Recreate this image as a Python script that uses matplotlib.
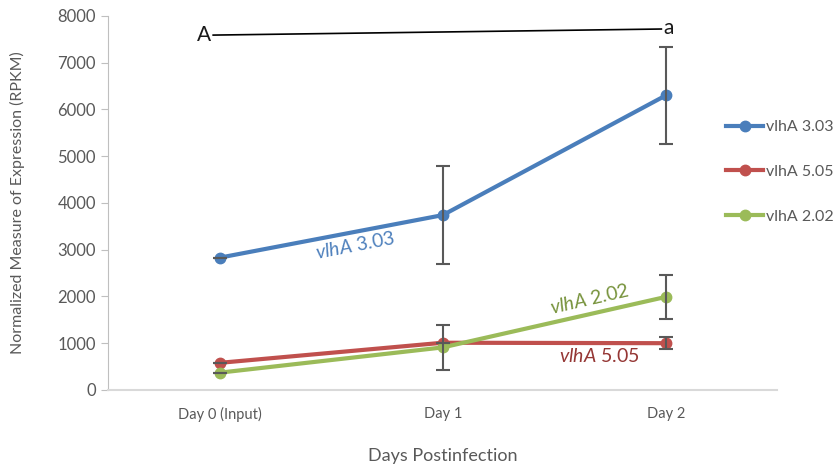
import matplotlib.pyplot as plt

# 数据
days = ['Day 0 (Input)', 'Day 1', 'Day 2']
vlha_303 = [2830, 3740, 6300]
vlha_303_err = [0, 1040, 1030]
vlha_505 = [580, 1010, 1000]
vlha_505_err = [0, 0, 130]
vlha_202 = [370, 910, 1990]
vlha_202_err = [0, 480, 470]

# A -> a 显著性标记线
sig_x = [-0.03, 1.98]
sig_y = [7590, 7720]

plt.rcParams['font.family'] = ['Lato', 'DejaVu Sans']
plt.rcParams['mathtext.fontset'] = 'custom'
plt.rcParams['mathtext.it'] = 'Lato:italic'
plt.rcParams['mathtext.rm'] = 'Lato'

fig = plt.figure(figsize=(8.4, 4.67), dpi=100)
ax = fig.add_axes([0.129, 0.165, 0.7964, 0.8009])

x = range(len(days))
series = [
    (vlha_303, vlha_303_err, '#4A7EBB', 'vlhA 3.03'),
    (vlha_505, vlha_505_err, '#C0504D', 'vlhA 5.05'),
    (vlha_202, vlha_202_err, '#9BBB59', 'vlhA 2.02'),
]
for vals, errs, col, lab in series:
    ax.plot(x, vals, color=col, lw=3, marker='o', ms=7.5, label=lab, zorder=3)
    ax.errorbar(x, vals, yerr=errs, fmt='none', ecolor='#595959', elinewidth=1.5,
                capsize=5, capthick=1.5, zorder=4)

ax.plot(sig_x, sig_y, color='black', lw=1.2)
ax.text(sig_x[0] - 0.01, sig_y[0], 'A', ha='right', va='center', fontsize=15, color='#1a1a1a')
ax.text(sig_x[1] + 0.01, sig_y[1] + 30, 'a', ha='left', va='center', fontsize=15, color='#1a1a1a')

# 线上标签
ax.text(0.605, 3100, r'$\it{vlhA}$ 3.03', color='#4F81BD', fontsize=14,
        rotation=11, ha='center', va='center')
ax.text(1.66, 1940, r'$\it{vlhA}$ 2.02', color='#77933C', fontsize=14,
        rotation=13, ha='center', va='center')
ax.text(1.70, 727, r'$\it{vlhA}$ 5.05', color='#953735', fontsize=14,
        ha='center', va='center')

ax.set_xlim(-0.5, 2.5)
ax.set_ylim(0, 8000)
ax.set_yticks(range(0, 8001, 1000))
ax.set_xticks(list(x))
ax.set_xticklabels(days)

for s in ['top', 'right']:
    ax.spines[s].set_visible(False)
ax.spines['left'].set_color('#bfbfbf')
ax.spines['bottom'].set_color('#d9d9d9')
ax.spines['bottom'].set_linewidth(1.5)
ax.tick_params(axis='y', length=5, color='#bfbfbf', labelcolor='#595959', labelsize=12, pad=4)
ax.tick_params(axis='x', length=0, labelcolor='#595959', labelsize=10.5, pad=12)

ax.set_xlabel('Days Postinfection', fontsize=13, color='#595959', labelpad=19)
ax.set_ylabel('Normalized Measure of Expression (RPKM)', fontsize=11.5, color='#595959', labelpad=23)

leg = ax.legend(loc='center left', bbox_to_anchor=(0.924, 0.583), frameon=False,
                fontsize=11.5, labelcolor='#595959', handlelength=2.3, handletextpad=0.2,
                labelspacing=1.9, borderaxespad=0, borderpad=0)

plt.savefig('out.png', dpi=100)
